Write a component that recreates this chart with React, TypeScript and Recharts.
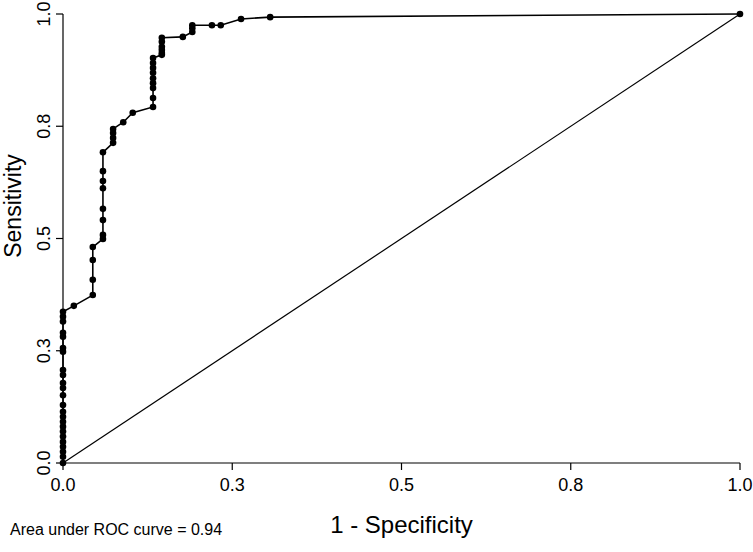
import { Label, Scatter, ScatterChart, XAxis, YAxis } from 'recharts'

// ROC points (1 - specificity, sensitivity)
const rocFpr = [
	0, 0, 0, 0, 0, 0, 0, 0, 0, 0, 0, 0, 0, 0, 0, 0, 0, 0, 0, 0, 0, 0, 0, 0,
	0.016,
	0.044, 0.044, 0.044, 0.044,
	0.059, 0.059, 0.059, 0.059, 0.059, 0.059, 0.059, 0.059,
	0.074, 0.074, 0.074, 0.074,
	0.089, 0.103,
	0.133, 0.133, 0.133, 0.133, 0.133, 0.133, 0.133, 0.133, 0.133,
	0.146, 0.146, 0.146, 0.146, 0.146, 0.146,
	0.177,
	0.191, 0.191, 0.191,
	0.22, 0.233, 0.263, 0.306, 1,
]
const rocTpr = [
	0, 0.014, 0.025, 0.036, 0.047, 0.059, 0.07, 0.081, 0.092, 0.103, 0.114, 0.129, 0.151, 0.167, 0.178, 0.196, 0.207,
	0.248, 0.256, 0.281, 0.29, 0.315, 0.326, 0.337,
	0.35,
	0.374, 0.408, 0.452, 0.481,
	0.499, 0.508, 0.541, 0.566, 0.612, 0.628, 0.65, 0.692,
	0.713, 0.724, 0.735, 0.744,
	0.759, 0.78,
	0.793, 0.813, 0.835, 0.846, 0.857, 0.869, 0.88, 0.891, 0.902,
	0.909, 0.913, 0.92, 0.927, 0.938, 0.947,
	0.949,
	0.96, 0.968, 0.975,
	0.975, 0.975, 0.989, 0.993, 1,
]
const chanceLine = [
	{ x: 0, y: 0 },
	{ x: 1, y: 1 },
]
const tickValues = [0, 0.25, 0.5, 0.75, 1]
const tickLabels = ['0.0', '0.3', '0.5', '0.8', '1.0']

const rocData = rocFpr.map((x, i) => ({ x, y: rocTpr[i] }))

const font = '"Liberation Sans", Arial, sans-serif'

const Dot = (props: any) => <circle cx={props.cx} cy={props.cy} r={3.3} fill="#000" />
const NoDot = () => null

const YTick = (props: any) => {
	const { x, y, index } = props
	return (
		<text x={x} y={y} transform={`rotate(-90 ${x} ${y})`} textAnchor="middle" fill="#000" fontSize={18} fontFamily={font}>
			{tickLabels[index]}
		</text>
	)
}

const XTitle = (props: any) => {
	const { viewBox } = props
	return (
		<text x={viewBox.x + viewBox.width / 2} y={533} textAnchor="middle" fill="#000" fontSize={24} fontFamily={font}>
			1 - Specificity
		</text>
	)
}

const YTitle = () => (
	<text x={21} y={206} transform="rotate(-90 21 206)" textAnchor="middle" fill="#000" fontSize={23} fontFamily={font}>
		Sensitivity
	</text>
)

export default function App() {
	return (
		<div style={{ position: 'relative', width: 753, height: 552 }}>
			<style>{'body { margin: 0; }'}</style>
			<ScatterChart width={753} height={552} margin={{ top: 14, right: 13, bottom: 0, left: 0 }}>
				<XAxis
					type="number"
					dataKey="x"
					domain={[0, 1]}
					ticks={tickValues}
					tickFormatter={(v, i) => tickLabels[i]}
					height={89}
					tickSize={7}
					tickMargin={8}
					axisLine={{ stroke: '#000', strokeWidth: 1.2 }}
					tickLine={{ stroke: '#000', strokeWidth: 1.2 }}
					tick={{ fill: '#000', fontSize: 18, fontFamily: font }}
					interval={0}
				>
					<Label content={<XTitle />} />
				</XAxis>
				<YAxis
					type="number"
					dataKey="y"
					domain={[0, 1]}
					ticks={tickValues}
					width={63}
					tickSize={7}
					tickMargin={6}
					axisLine={{ stroke: '#000', strokeWidth: 1.2 }}
					tickLine={{ stroke: '#000', strokeWidth: 1.2 }}
					tick={<YTick />}
					interval={0}
				>
					<Label content={<YTitle />} />
				</YAxis>
				<Scatter
					data={chanceLine}
					line={{ stroke: '#000', strokeWidth: 1.2 }}
					lineType="joint"
					shape={<NoDot />}
					isAnimationActive={false}
				/>
				<Scatter
					data={rocData}
					line={{ stroke: '#000', strokeWidth: 1.6 }}
					lineType="joint"
					shape={<Dot />}
					isAnimationActive={false}
				/>
			</ScatterChart>
			<div
				style={{
					position: 'absolute',
					left: 10,
					top: 521,
					fontFamily: font,
					fontSize: 16,
					lineHeight: '18px',
					color: '#000',
					whiteSpace: 'nowrap',
				}}
			>
				Area under ROC curve = 0.94
			</div>
		</div>
	)
}
